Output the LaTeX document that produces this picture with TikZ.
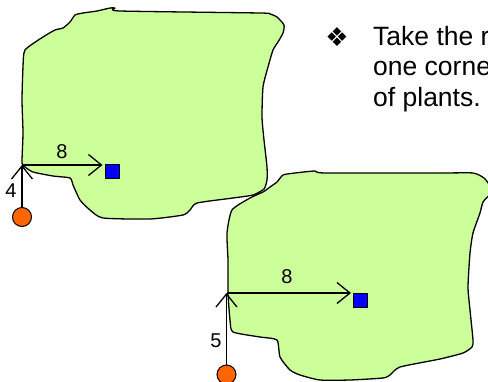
\documentclass[tikz,border=0pt]{standalone}
\usepackage{fontspec}
\setmainfont{Liberation Sans}
\newfontfamily\dejavu{DejaVu Sans}
\usetikzlibrary{arrows.meta}
\definecolor{plotgreen}{HTML}{CCFF99}
\definecolor{markorange}{HTML}{FF6600}
\definecolor{markblue}{HTML}{0000FF}
\tikzset{
  patch/.style={draw=black, line width=1.3pt, fill=plotgreen, line join=round},
  measure/.style={draw=black, line width=1.3pt, -{Straight Barb[length=13pt,width=21pt,line width=1.3pt]}},
  plantmark/.style={draw=black, line width=1pt, fill=markblue, minimum size=14pt, inner sep=0pt, rectangle},
  cornermark/.style={draw=black, line width=1pt, fill=markorange, circle, minimum size=19pt, inner sep=0pt},
  numlabel/.style={font=\fontsize{20}{22}\selectfont, inner sep=0pt},
  bodytext/.style={font=\fontsize{26.5}{30}\selectfont, inner sep=0pt, anchor=base west}
}
\begin{document}
\begin{tikzpicture}[x=1pt,y=-1pt]
\useasboundingbox (0,0) rectangle (488,381);
\clip (0,0) rectangle (488,381);
% first patch
\draw[patch] plot[smooth cycle, tension=0.35] coordinates {
(25,50) (43,37) (55,30) (63,28) (70,22) (75,15) (83,13) (97,11) (110,8) (115,8) (120,11)
(260,13) (270,14) (277,17) (284,25) (283,33) (278,42) (273,50) (268,67) (263,87) (262,117)
(264,140) (267,167) (267,180) (264,189) (253,195) (233,198) (197,203) (190,210) (183,215)
(150,219) (103,218) (90,210) (80,200) (73,185) (70,178) (53,176) (33,172) (25,167) (22,163)
(23,133) (22,100) (23,67)};
% second patch
\draw[patch] plot[smooth cycle, tension=0.35] coordinates {
(232,210) (250,198) (263,192) (270,187) (277,182) (283,175) (295,173) (315,171) (325,173)
(440,173) (473,173) (484,178) (490,186) (490,194) (483,202) (480,213) (473,233)
(470,253) (468,287) (470,310) (473,340) (472,347) (463,353) (440,359) (400,367)
(390,375) (383,378) (350,380) (320,380) (300,375) (290,370) (280,357) (277,340) (260,337)
(233,332) (230,320) (228,293) (228,260) (227,233)};
% first measurement
\coordinate (o1) at (22,165);
\coordinate (e1) at (102.5,165);
\node[cornermark] (c1) at (22,217) {};
\node[plantmark] (s1) at (112,171) {};
\draw[measure] (c1) -- (o1);
\draw[measure] (o1) -- (e1);
\node[numlabel] (l8a) at (62,152) {8};
\node[numlabel] (l4) at (11,191) {4};
% second measurement
\coordinate (o2) at (226.5,293);
\coordinate (e2) at (351,293);
\node[cornermark] (c2) at (226.5,374.5) {};
\node[plantmark] (s2) at (360,300) {};
\draw[measure] (c2) -- (o2);
\draw[measure] (o2) -- (e2);
\node[numlabel] (l8b) at (287,277) {8};
\node[numlabel] (l5) at (216,341) {5};
% text
\node[font=\dejavu\fontsize{26}{28}\selectfont, inner sep=0pt] (bul) at (337,37) {❖};
\node[bodytext] (t1) at (373,45) {Take the r};
\node[bodytext] (t2) at (373,75.5) {one corne};
\node[bodytext] (t3) at (373,106) {of plants.};
\end{tikzpicture}
\end{document}
